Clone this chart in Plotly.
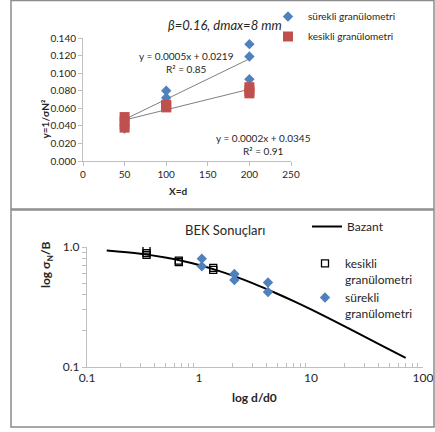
import numpy as np
import plotly.graph_objects as go

W, H = 435, 432
def px(x): return x / W
def py(y): return 1 - y / H

# ---------------- top chart data ----------------
surekli_d = [50, 50, 100, 100, 200, 200, 200]
surekli_y = [0.050, 0.037, 0.080, 0.072, 0.133, 0.119, 0.093]
kesikli_d = [50, 50, 50, 100, 100, 100, 200, 200, 200]
kesikli_y = [0.050, 0.044, 0.038, 0.064, 0.062, 0.061, 0.084, 0.080, 0.077]
top_yticks = [0.000, 0.020, 0.040, 0.060, 0.080, 0.100, 0.120, 0.140]
top_xticks = [0, 50, 100, 150, 200, 250]
eq_surekli = ["y = 0.0005x + 0.0219", "R² = 0.85"]
eq_kesikli = ["y = 0.0002x + 0.0345", "R² = 0.91"]

# ---------------- bottom chart data ----------------
bazant_x = [0.15, 0.3, 0.5, 0.7, 1.0, 1.5, 2.0, 3.0, 5.0, 7.0, 10.0, 20.0, 40.0, 70.0]
bazant_y = [0.933, 0.877, 0.816, 0.767, 0.707, 0.632, 0.577, 0.500, 0.408, 0.354, 0.302, 0.218, 0.156, 0.119]
kes_dd0 = [0.34, 0.34, 0.34, 0.66, 0.66, 1.34, 1.34]
kes_sig = [0.95, 0.89, 0.86, 0.77, 0.75, 0.67, 0.645]
sur_dd0 = [1.06, 1.06, 2.07, 2.07, 4.13, 4.13]
sur_sig = [0.80, 0.69, 0.596, 0.531, 0.506, 0.422]
bx_major = [0.1, 1, 10, 100]
bx_major_text = ["0.1", "1", "10", "100"]
by_major = [0.1, 1.0]
by_major_text = ["0.1", "1.0"]

BLUE = "#4F81BD"
RED = "#C0504D"
FONT = "Lato"
TXT = "#262626"

fig = go.Figure()

# trendlines (fitted from the data)
for xs, ys in [(surekli_d, surekli_y), (kesikli_d, kesikli_y)]:
    m, b = np.polyfit(xs, ys, 1)
    lx = [min(xs), max(xs)]
    fig.add_trace(go.Scatter(x=lx, y=[m * v + b for v in lx], mode="lines",
                             line=dict(color="#808080", width=1), showlegend=False,
                             xaxis="x", yaxis="y", hoverinfo="skip"))

fig.add_trace(go.Scatter(x=surekli_d, y=surekli_y, mode="markers", name="sürekli granülometri",
                         marker=dict(symbol="diamond", size=8, color=BLUE),
                         xaxis="x", yaxis="y", legend="legend", legendgroup="a"))
fig.add_trace(go.Scatter(x=kesikli_d, y=kesikli_y, mode="markers", name="kesikli granülometri",
                         marker=dict(symbol="square", size=10, color=RED),
                         xaxis="x", yaxis="y", legend="legend", legendgroup="b"))

# bottom
fig.add_trace(go.Scatter(x=bazant_x, y=bazant_y, mode="lines", name="Bazant",
                         line=dict(color="black", width=2, shape="spline"),
                         xaxis="x2", yaxis="y2", legend="legend2"))
fig.add_trace(go.Scatter(x=kes_dd0, y=kes_sig, mode="markers", name="kesikli<br>granülometri",
                         marker=dict(symbol="square-open", size=7, color="black", line=dict(width=1.3)),
                         xaxis="x2", yaxis="y2", legend="legend3"))
fig.add_trace(go.Scatter(x=sur_dd0, y=sur_sig, mode="markers", name="sürekli<br>granülometri",
                         marker=dict(symbol="diamond", size=8, color=BLUE),
                         xaxis="x2", yaxis="y2", legend="legend3"))

axcol = "#BFBFBF"
tickfont_top = dict(family=FONT, size=10, color=TXT)
tickfont_bot = dict(family=FONT, size=12, color=TXT)

bx_minor = [v * k for v in [0.1, 1, 10] for k in range(2, 10)]
by_minor = [0.1 * k for k in range(2, 10)]

leg_common = dict(xref="container", yref="container", xanchor="left", yanchor="top",
                  bgcolor="rgba(0,0,0,0)", itemwidth=30)

fig.update_layout(
    width=W, height=H,
    margin=dict(l=0, r=0, t=0, b=0, autoexpand=False),
    paper_bgcolor="white", plot_bgcolor="white",
    font=dict(family=FONT, color=TXT),
    xaxis=dict(domain=[px(83), px(291)], range=[0, 250], tickvals=top_xticks,
               showgrid=False, zeroline=False, showline=True, linecolor=axcol, linewidth=1,
               ticks="outside", ticklen=4, tickcolor=axcol, tickfont=tickfont_top, anchor="y"),
    yaxis=dict(domain=[py(161), py(38)], range=[0, 0.14], tickvals=top_yticks, tickformat=".3f",
               showgrid=False, zeroline=False, showline=True, linecolor=axcol, linewidth=1,
               ticks="outside", ticklen=4, tickcolor=axcol, tickfont=tickfont_top, anchor="x"),
    xaxis2=dict(domain=[px(87), px(423)], type="log", range=[-1, 2],
                tickvals=bx_major, ticktext=bx_major_text,
                showgrid=False, zeroline=False, showline=True, linecolor=axcol, linewidth=1,
                ticks="", tickfont=tickfont_bot, anchor="y2",
                minor=dict(tickvals=bx_minor, ticks="inside", ticklen=4, tickcolor=axcol, showgrid=False)),
    yaxis2=dict(domain=[py(367), py(247)], type="log", range=[-1, 0],
                tickvals=by_major, ticktext=by_major_text,
                showgrid=False, zeroline=False, showline=True, linecolor=axcol, linewidth=1,
                ticks="outside", ticklen=4, tickcolor=axcol, tickfont=tickfont_bot, anchor="x2",
                minor=dict(tickvals=by_minor, ticks="outside", ticklen=4, tickcolor=axcol, showgrid=False)),
    legend=dict(x=px(268), y=py(2), font=dict(family=FONT, size=10, color=TXT),
                traceorder="grouped", tracegroupgap=1, **leg_common),
    legend2=dict(x=px(307), y=py(212), font=dict(family=FONT, size=12, color=TXT), **leg_common),
    legend3=dict(x=px(305), y=py(249), font=dict(family=FONT, size=12, color=TXT), valign="top",
                 **leg_common),
    showlegend=True,
)

ann = []
def A(x, y, text, size, **kw):
    d = dict(x=px(x), y=py(y), xref="paper", yref="paper", text=text, showarrow=False,
             font=dict(family=FONT, size=size, color=kw.pop("color", TXT)))
    d.update(kw)
    ann.append(d)

A(225, 15, "<i>β=0.16, dmax=8 mm</i>", 13)
A(137, 47.5, eq_surekli[0] + "<br>" + eq_surekli[1], 10)
A(263, 144.5, eq_kesikli[0] + "<br>" + eq_kesikli[1], 10)
A(178, 191, "<b>X=d</b>", 10)
A(36, 98, "<b>y=1/σN²</b>", 10, textangle=-90)
A(225, 230, "BEK Sonuçları", 13)
A(36, 290, "<b>log σ<sub>N</sub>/B</b>", 12, textangle=-90)
A(255, 407, "<b>log d/d0</b>", 12)
fig.update_layout(annotations=ann)

bc = "#8C8C8C"
fig.update_layout(shapes=[
    dict(type="rect", xref="paper", yref="paper", x0=px(11), x1=px(434), y0=py(209), y1=py(0.5),
         line=dict(color=bc, width=1.5)),
    dict(type="rect", xref="paper", yref="paper", x0=px(11), x1=px(434), y0=py(427), y1=py(210),
         line=dict(color=bc, width=1.5)),
])

fig.write_html("out.html", post_script="document.body.style.margin='0';",
               config={"displayModeBar": False})
